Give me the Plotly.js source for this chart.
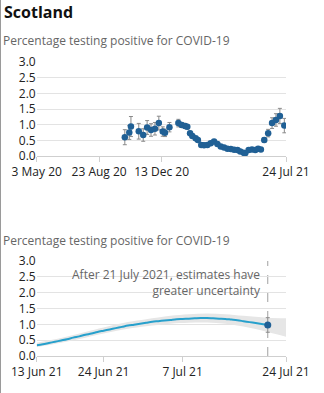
<!DOCTYPE html>
<html>
<head>
<meta charset="utf-8">
<script src="https://cdn.plot.ly/plotly-3.0.1.min.js"></script>
<style>
html,body{margin:0;padding:0;background:#fff;}
#chart{width:324px;height:393px;}
</style>
</head>
<body>
<div id="chart"></div>
<script>
// Top chart: modelled estimates (weekly points) with 95% intervals
const topDates = ['2020-10-08','2020-10-16','2020-10-19','2020-11-02','2020-11-10','2020-11-17','2020-11-24','2020-12-01','2020-12-08','2020-12-15','2020-12-19','2020-12-27',
  '2021-01-12','2021-01-18','2021-01-24','2021-01-28','2021-02-02','2021-02-06','2021-02-12','2021-02-16','2021-02-22','2021-02-27',
  '2021-03-05','2021-03-11','2021-03-17','2021-03-23','2021-03-29','2021-04-04','2021-04-10','2021-04-16','2021-04-22','2021-04-28',
  '2021-05-03','2021-05-09','2021-05-12','2021-05-18','2021-05-24','2021-05-30','2021-06-04','2021-06-09','2021-06-15','2021-06-22',
  '2021-06-29','2021-07-06','2021-07-13','2021-07-21'];
const topValues = [0.60,0.75,0.94,0.79,0.67,0.91,0.83,0.87,1.05,0.78,0.74,0.92,
  1.05,0.99,0.96,0.93,0.73,0.64,0.57,0.51,0.35,0.34,
  0.35,0.41,0.46,0.38,0.30,0.27,0.23,0.22,0.20,0.19,
  0.14,0.10,0.09,0.19,0.21,0.19,0.23,0.21,0.51,0.73,
  1.05,1.15,1.28,0.97];
const topErrors = [0.24,0.22,0.32,0.25,0.20,0.22,0.20,0.20,0.22,0.15,0.12,0.15,
  0.12,0.08,0.08,0.07,0.06,0.05,0.05,0.04,0.04,0.03,
  0.03,0.04,0.04,0.03,0.03,0.03,0.02,0.02,0.02,0.02,
  0.02,0.02,0.02,0.03,0.03,0.03,0.03,0.03,0.08,0.12,
  0.17,0.20,0.24,0.23];
const topTickVals = ['2020-05-03','2020-08-23','2020-12-13','2021-07-24'];
const topTickText = ['3 May 20','23 Aug 20','13 Dec 20','24 Jul 21'];

// Bottom chart: daily modelled trend with credible interval
const trendDates = ['2021-06-13','2021-06-14','2021-06-15','2021-06-16','2021-06-17','2021-06-18','2021-06-19','2021-06-20','2021-06-21','2021-06-22',
  '2021-06-23','2021-06-24','2021-06-25','2021-06-26','2021-06-27','2021-06-28','2021-06-29','2021-06-30','2021-07-01','2021-07-02',
  '2021-07-03','2021-07-04','2021-07-05','2021-07-06','2021-07-07','2021-07-08','2021-07-09','2021-07-10','2021-07-11','2021-07-12',
  '2021-07-13','2021-07-14','2021-07-15','2021-07-16','2021-07-17','2021-07-18','2021-07-19','2021-07-20','2021-07-21'];
const trendValues = [0.34,0.37,0.41,0.45,0.49,0.53,0.58,0.62,0.67,0.71,
  0.76,0.80,0.84,0.88,0.92,0.96,0.99,1.02,1.05,1.08,
  1.10,1.12,1.14,1.16,1.17,1.18,1.19,1.20,1.20,1.19,
  1.18,1.17,1.15,1.13,1.10,1.07,1.04,1.01,0.98];
const bandDates = ['2021-06-13','2021-06-17','2021-06-21','2021-06-24','2021-06-28','2021-07-01','2021-07-05','2021-07-08','2021-07-11','2021-07-14','2021-07-17','2021-07-21','2021-07-24'];
const bandLower = [0.28,0.42,0.58,0.71,0.86,0.94,1.02,1.05,1.06,1.02,0.93,0.76,0.61];
const bandUpper = [0.42,0.57,0.76,0.90,1.07,1.16,1.27,1.32,1.34,1.32,1.27,1.21,1.19];
const pointDate = ['2021-07-21'];
const pointValue = [0.98];
const pointError = [0.23];
const botTickVals = ['2021-06-13','2021-06-24','2021-07-07','2021-07-24'];
const botTickText = ['13 Jun 21','24 Jun 21','7 Jul 21','24 Jul 21'];

const H = 393, W = 324;
const FONT = '"Open Sans", sans-serif';
const darkBlue = '#206095', lightBlue = '#27a0cc';

const traces = [
  {type:'scatter', mode:'markers', x: topDates, y: topValues, xaxis:'x', yaxis:'y',
   marker:{color: darkBlue, size:6.5},
   error_y:{type:'data', array: topErrors, visible:true, color:'#8a8a8a', thickness:1, width:2},
   hoverinfo:'x+y'},
  {type:'scatter', mode:'lines', x: bandDates, y: bandLower, xaxis:'x2', yaxis:'y2',
   line:{width:0, shape:'spline'}, hoverinfo:'skip'},
  {type:'scatter', mode:'lines', x: bandDates, y: bandUpper, xaxis:'x2', yaxis:'y2',
   line:{width:0, shape:'spline'}, fill:'tonexty', fillcolor:'#e6e6e6', hoverinfo:'skip'},
  {type:'scatter', mode:'lines', x: trendDates, y: trendValues, xaxis:'x2', yaxis:'y2',
   line:{color: lightBlue, width:2, shape:'spline'}},
  {type:'scatter', mode:'markers', x: pointDate, y: pointValue, xaxis:'x2', yaxis:'y2',
   marker:{color: darkBlue, size:7},
   error_y:{type:'data', array: pointError, visible:true, color:'#8a8a8a', thickness:1, width:2}}
];

const xDomain = [36.7/W, 286/W];
const yAx = (dom) => ({domain: dom, range:[0,3], dtick:0.5, tick0:0, tickformat:'.1f',
  showgrid:true, gridcolor:'#e3e3e3', gridwidth:1, zeroline:false, showline:false, ticks:'',
  tickfont:{family:FONT, size:12, color:'#222'}, fixedrange:true});
const xAx = (range, vals, text, anchor) => ({domain: xDomain, range: range, type:'date', anchor: anchor,
  tickvals: vals, ticktext: text, showgrid:false, zeroline:false,
  showline:true, linecolor:'#cfcfcf', linewidth:1, ticks:'outside', ticklen:5, tickcolor:'#cfcfcf',
  tickfont:{family:FONT, size:12, color:'#222'}, fixedrange:true});

const layout = {
  width: W, height: H,
  margin:{l:0, r:0, t:0, b:0},
  paper_bgcolor:'#fff', plot_bgcolor:'#fff',
  showlegend:false,
  font:{family:FONT},
  xaxis: xAx(['2020-05-03','2021-07-24'], topTickVals, topTickText, 'y'),
  yaxis: yAx([1-156/H, 1-62/H]),
  xaxis2: xAx(['2021-06-13','2021-07-24'], botTickVals, botTickText, 'y2'),
  yaxis2: yAx([1-356/H, 1-261/H]),
  shapes:[
    {type:'line', xref:'x2', yref:'y2', x0:'2021-07-21', x1:'2021-07-21', y0:0, y1:3.05,
     line:{color:'#a0a0a0', width:1, dash:'dash'}, layer:'below'},
    {type:'line', xref:'paper', yref:'paper', x0:0.5/W, x1:0.5/W, y0:0, y1:1,
     line:{color:'#9a9a9a', width:1}}
  ],
  annotations:[
    {xref:'paper', yref:'paper', x:2/W, y:1-12/H, xanchor:'left', yanchor:'middle', showarrow:false,
     text:'<b>Scotland</b>', font:{family:FONT, size:16, color:'#111'}},
    {xref:'paper', yref:'paper', x:1/W, y:1-40/H, xanchor:'left', yanchor:'middle', showarrow:false,
     text:'Percentage testing positive for COVID-19', font:{family:FONT, size:12, color:'#666'}},
    {xref:'paper', yref:'paper', x:1/W, y:1-240/H, xanchor:'left', yanchor:'middle', showarrow:false,
     text:'Percentage testing positive for COVID-19', font:{family:FONT, size:12, color:'#666'}},
    {xref:'x2', yref:'y2', x:'2021-07-21', y:3, xanchor:'right', yanchor:'top', xshift:-5, yshift:-3,
     showarrow:false, align:'right',
     text:'After 21 July 2021, estimates have<br>greater uncertainty',
     font:{family:FONT, size:12, color:'#666'}, bgcolor:'rgba(255,255,255,0)'}
  ]
};

Plotly.newPlot('chart', traces, layout, {displayModeBar:false, staticPlot:true});
</script>
</body>
</html>
